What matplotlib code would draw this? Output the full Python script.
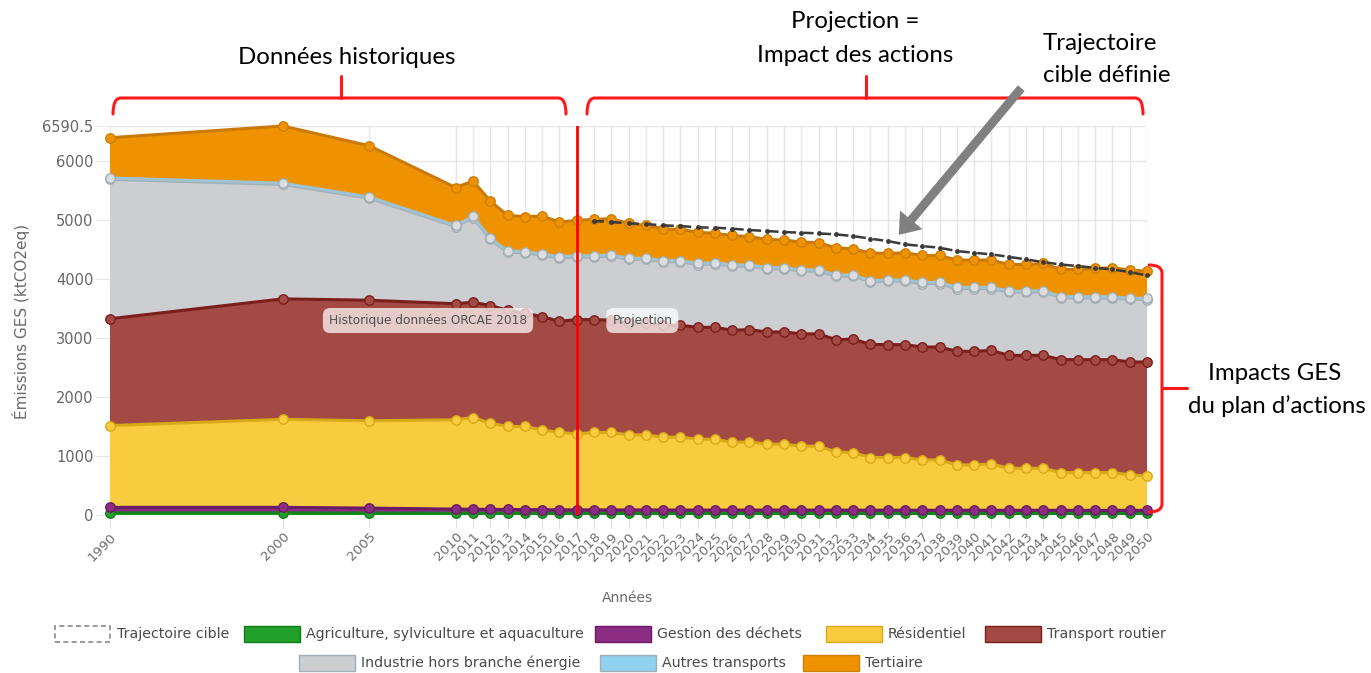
import numpy as np
import matplotlib
matplotlib.use('Agg')
import matplotlib.pyplot as plt
from matplotlib.path import Path
from matplotlib.patches import PathPatch, FancyArrowPatch, Rectangle

# ---------------- data ----------------
years = [1990, 2000, 2005] + list(range(2010, 2051))

agriculture = [35, 35, 32,
               30, 30, 30, 30, 30, 30, 30, 30, 30, 30,
               30, 30, 29, 29, 29, 29, 29, 29, 29, 29,
               29, 29, 28, 28, 28, 28, 28, 28, 28, 28,
               28, 28, 28, 28, 28, 28, 28, 28, 28, 28, 28]
dechets = [95, 95, 85,
           70, 68, 66, 64, 62, 60, 58, 57, 57, 56,
           56, 56, 56, 55, 55, 55, 55, 55, 55, 55,
           55, 54, 54, 54, 54, 54, 53, 53, 53, 53,
           53, 52, 52, 52, 52, 52, 51, 51, 51, 51, 50]
residentiel = [1385, 1490, 1479,
               1513, 1552, 1460, 1406, 1408, 1353, 1310, 1288, 1311, 1312,
               1272, 1272, 1234, 1234, 1200, 1200, 1146, 1156, 1116, 1116,
               1082, 1082, 987, 975, 892, 892, 892, 852, 852, 768,
               768, 785, 712, 712, 712, 640, 640, 640, 640, 601, 584]
transport_routier = [1810, 2042, 2043,
                     1967, 1955, 1993, 1970, 1920, 1917, 1885, 1935, 1913, 1902,
                     1892, 1892, 1896, 1896, 1896, 1896, 1900, 1901, 1901, 1901,
                     1903, 1903, 1902, 1922, 1916, 1913, 1913, 1913, 1913, 1924,
                     1924, 1924, 1913, 1913, 1913, 1913, 1913, 1913, 1913, 1913, 1930]
industrie = [2363, 1938, 1727,
             1305, 1435, 1121, 984, 1023, 1038, 1075, 1060, 1064, 1086,
             1080, 1080, 1075, 1075, 1064, 1075, 1087, 1076, 1070, 1070,
             1064, 1064, 1075, 1067, 1061, 1075, 1075, 1075, 1075, 1064,
             1064, 1047, 1070, 1070, 1076, 1047, 1047, 1047, 1047, 1059, 1059]
autres_transports = [22, 22, 22,
                     20, 20, 20, 20, 20, 20, 20, 20, 20, 20,
                     20, 20, 20, 20, 20, 20, 20, 20, 20, 20,
                     20, 20, 20, 20, 20, 20, 20, 20, 20, 20,
                     20, 20, 20, 20, 20, 20, 20, 20, 20, 20, 20]
tertiaire = [682, 968.5, 868,
             642, 600, 630, 603, 592, 648, 586, 600, 614, 614,
             591, 557, 541, 529, 529, 495, 500, 478, 479, 467,
             472, 461, 461, 444, 467, 450, 461, 456, 456, 462,
             462, 462, 450, 450, 461, 461, 461, 478, 489, 478, 461]

trajectoire_years = list(range(2018, 2051))
trajectoire = [4981, 4964, 4941, 4930, 4907, 4896, 4873, 4868, 4851, 4828,
               4811, 4794, 4783, 4771, 4754, 4726, 4681, 4641, 4585, 4556,
               4528, 4471, 4443, 4415, 4375, 4330, 4284, 4245, 4217, 4188,
               4160, 4115, 4058]

series_names = ['Agriculture, sylviculture et aquaculture', 'Gestion des déchets',
                'Résidentiel', 'Transport routier', 'Industrie hors branche énergie',
                'Autres transports', 'Tertiaire']
y_ticks = [0, 1000, 2000, 3000, 4000, 5000, 6000, 6590.5]
y_ticklabels = ['0', '1000', '2000', '3000', '4000', '5000', '6000', '6590.5']
split_year = 2017

# ---------------- styles ----------------
fills = ['#21a02c', '#8c2d84', '#f9cb3f', '#a34a45', '#cdced2', '#8fd1ef', '#ef9200']
lines = ['#13821c', '#6b1a63', '#d9aa17', '#7b1f1c', '#a2b0b5', '#9fc3d3', '#c97a0a']
mfcs = ['#22a12d', '#8c2d84', '#f9cb3f', '#a34a45', '#dcdde0', '#dcdde0', '#ef9200']
mecs = ['#137a1c', '#6b1a63', '#d9aa17', '#7b1f1c', '#a2aeb3', '#a2aeb3', '#cf7e0a']

W, H = 1371, 673
fig = plt.figure(figsize=(W / 100, H / 100), dpi=100)
fig.patch.set_facecolor('white')

def fx(px):
    return px / W

def fy(py):
    return 1 - py / H

ax = fig.add_axes([fx(110), fy(515), (1147 - 110) / W, (515 - 126) / H])

layers = [agriculture, dechets, residentiel, transport_routier, industrie,
          autres_transports, tertiaire]
stacked = np.cumsum(np.array(layers, dtype=float), axis=0)
ax.stackplot(years, *layers, colors=fills, lw=0, zorder=2)
for i in range(len(layers)):
    ax.plot(years, stacked[i], color=lines[i], lw=2.2, marker='o', ms=6.8,
            mfc=mfcs[i], mec=mecs[i], mew=1, zorder=3 + i, clip_on=False)

ax.plot(trajectoire_years, trajectoire, color='#3a3a3a', lw=1.8,
        ls=(0, (4, 3)), marker='o', ms=2.5, zorder=12, clip_on=False)

ax.axvline(split_year, color='#ff0000', lw=2, zorder=15)

ax.set_xlim(years[0], years[-1])
ax.set_ylim(0, y_ticks[-1])
ax.set_xticks(years)
ax.set_xticklabels([str(y) for y in years], rotation=45, ha='right',
                   rotation_mode='anchor')
ax.set_yticks(y_ticks)
ax.set_yticklabels(y_ticklabels)
ax.tick_params(axis='x', length=9, color='#e0e0e0', labelsize=9.6,
               labelcolor='#6e6e6e', pad=2)
ax.tick_params(axis='y', length=10, color='#e6e6e6', labelsize=10.5,
               labelcolor='#666666', pad=2)
ax.grid(True, color='#e6e6e6', lw=1)
ax.set_axisbelow(True)
for s in ax.spines.values():
    s.set_visible(False)

# plot-band labels
lbl_box = dict(boxstyle='round,pad=0.5,rounding_size=0.6', fc=(1, 1, 1, 0.72), ec='none')
ax.text(2008.4, 3295, 'Historique données ORCAE 2018', ha='center', va='center',
        fontsize=8.7, color='#505050', bbox=lbl_box, zorder=20)
ax.text(2020.8, 3295, 'Projection', ha='center', va='center',
        fontsize=8.7, color='#505050', bbox=lbl_box, zorder=20)

# axis titles
fig.text(fx(21), fy(321), 'Émissions GES (ktCO2eq)', rotation=90, ha='center',
         va='center', fontsize=11, color='#6a6a6a')
fig.text(fx(627), fy(598), 'Années', ha='center', va='center', fontsize=10,
         color='#6a6a6a')

# legend (manual, two centred rows)
legend_rows = [
    [(55, None, 'Trajectoire cible'), (244, 0, series_names[0]), (595, 1, series_names[1]),
     (826, 2, series_names[2]), (985, 3, series_names[3])],
    [(299, 4, series_names[4]), (600, 5, series_names[5]), (803, 6, series_names[6])],
]
for row_y, row in zip([634, 663], legend_rows):
    for x0, idx, name in row:
        if idx is None:
            r = Rectangle((fx(x0), fy(row_y + 8)), 55 / W, 16 / H, transform=fig.transFigure,
                          fc='white', ec='#8a8a8a', lw=1.2, ls=(0, (3, 2)))
        else:
            r = Rectangle((fx(x0), fy(row_y + 8)), 56 / W, 16 / H, transform=fig.transFigure,
                          fc=fills[idx], ec=mecs[idx], lw=1)
        fig.add_artist(r)
        fig.text(fx(x0 + 62), fy(row_y), name, ha='left', va='center', fontsize=10.2,
                 color='#4a4a4a')

# ---------------- annotations ----------------
ann_font = dict(family=['Lato', 'DejaVu Sans'], fontsize=17.3, color='black',
                ha='center', va='center')
fig.text(fx(347), fy(58), 'Données historiques', **ann_font)
fig.text(fx(855), fy(22), 'Projection =', **ann_font)
fig.text(fx(855), fy(55), 'Impact des actions', **ann_font)
fig.text(fx(1100), fy(43), 'Trajectoire', **ann_font)
fig.text(fx(1107), fy(75), 'cible définie', **ann_font)
fig.text(fx(1275), fy(374), 'Impacts GES', **ann_font)
fig.text(fx(1277), fy(406), 'du plan d’actions', **ann_font)

red = '#ff1a1a'

def draw_path(pts, codes):
    verts = [(fx(x), fy(y)) for x, y in pts]
    p = PathPatch(Path(verts, codes), transform=fig.transFigure, fill=False,
                  ec=red, lw=2.2, capstyle='round', joinstyle='round')
    fig.add_artist(p)

def hbracket(x0, x1, xm, y, ytip, yend):
    M, L, C = Path.MOVETO, Path.LINETO, Path.CURVE3
    draw_path([(x0, yend), (x0, y), (x0 + 8, y), (x1 - 8, y), (x1, y), (x1, yend)],
              [M, C, C, L, C, C])
    draw_path([(xm, y), (xm, ytip)], [M, L])

hbracket(113, 566, 341, 98, 76, 114)
hbracket(587, 1143, 866, 98, 76, 114)

M, L, C = Path.MOVETO, Path.LINETO, Path.CURVE3
draw_path([(1149, 265), (1162, 265), (1162, 273), (1162, 504), (1162, 512), (1149, 512)],
          [M, C, C, L, C, C])
draw_path([(1162, 388), (1187, 388)], [M, L])

arrow = FancyArrowPatch((fx(1023), fy(86)), (fx(897), fy(237)), transform=fig.transFigure,
                        arrowstyle='simple,head_length=1.0,head_width=1.5,tail_width=0.45',
                        mutation_scale=14, color='#808080', lw=0)
fig.add_artist(arrow)

fig.savefig('out.png', dpi=100)
